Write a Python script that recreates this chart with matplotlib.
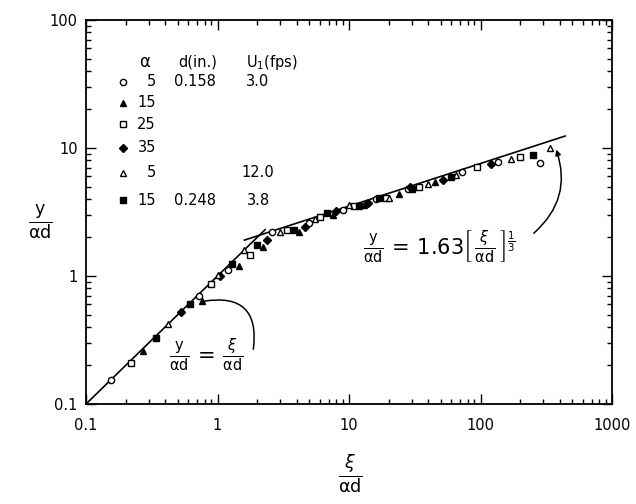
import numpy as np
import matplotlib
matplotlib.use("Agg")
import matplotlib.pyplot as plt

# Dimensionless penetration y/(alpha d) versus xi/(alpha d)
circle_x = [0.155, 0.72, 1.2, 2.6, 5.0, 9.0, 16, 28, 72, 136, 282]
circle_y = [0.155, 0.70, 1.12, 2.2, 2.6, 3.3, 4.0, 4.8, 6.5, 7.8, 7.6]

tri_fill_x = [0.27, 0.76, 1.45, 2.2, 4.2, 7.5, 13, 24, 45]
tri_fill_y = [0.26, 0.64, 1.2, 1.7, 2.2, 3.0, 3.6, 4.4, 5.4]

square_x = [0.22, 0.9, 1.77, 3.4, 6.0, 11, 19, 34, 94, 200]
square_y = [0.21, 0.87, 1.45, 2.3, 2.9, 3.5, 4.1, 5.0, 7.1, 8.5]

diamond_x = [0.53, 1.05, 2.4, 4.6, 8.0, 14, 29, 52, 120]
diamond_y = [0.52, 1.0, 1.9, 2.4, 3.2, 3.7, 5.0, 5.6, 7.5]

tri_open_x = [0.42, 1.0, 1.6, 3.0, 5.5, 10, 20, 40, 65, 170, 338]
tri_open_y = [0.42, 1.02, 1.6, 2.2, 2.8, 3.6, 4.1, 5.2, 6.2, 8.2, 10.0]

sq_fill_x = [0.34, 0.62, 1.3, 2.0, 3.8, 6.8, 12, 17, 30, 60, 250]
sq_fill_y = [0.33, 0.6, 1.25, 1.75, 2.3, 3.1, 3.5, 4.07, 4.8, 5.9, 8.8]

# Legend table rows: alpha, d (in.), U1 (fps)
alpha_vals = ["5", "15", "25", "35", "5", "15"]
d_vals = ["0.158", "", "", "", "", "0.248"]
u_vals = ["3.0", "", "", "", "12.0", "3.8"]

# Correlation lines
near_range = (0.1, 2.3)
far_range = (1.6, 440)
coef = 1.63
power = 1.0 / 3.0

xticks = [0.1, 1, 10, 100, 1000]
xtick_labels = ["0.1", "1", "10", "100", "1000"]
yticks = [0.1, 1, 10, 100]
ytick_labels = ["0.1", "1", "10", "100"]

plt.rcParams["font.family"] = ["DejaVu Sans"]
plt.rcParams["mathtext.fontset"] = "dejavusans"

fig = plt.figure(figsize=(6.36, 5.04), dpi=100)
ax = fig.add_axes([86 / 636, 100 / 504, 526 / 636, 384 / 504])
ax.set_xscale("log")
ax.set_yscale("log")
ax.set_xlim(0.1, 1000)
ax.set_ylim(0.1, 100)

xa = np.logspace(np.log10(near_range[0]), np.log10(near_range[1]), 50)
ax.plot(xa, xa, color="black", lw=1.2)
xb = np.logspace(np.log10(far_range[0]), np.log10(far_range[1]), 100)
ax.plot(xb, coef * xb ** power, color="black", lw=1.2)

ms = 4.5
series = [
    (circle_x, circle_y, dict(marker="o", mfc="white", mec="black")),
    (tri_fill_x, tri_fill_y, dict(marker="^", mfc="black", mec="black")),
    (square_x, square_y, dict(marker="s", mfc="white", mec="black")),
    (diamond_x, diamond_y, dict(marker="D", mfc="black", mec="black")),
    (tri_open_x, tri_open_y, dict(marker="^", mfc="white", mec="black")),
    (sq_fill_x, sq_fill_y, dict(marker="s", mfc="black", mec="black")),
]
for xs, ys, style in series:
    ax.plot(xs, ys, ls="none", ms=ms, mew=1.0, zorder=3, **style)

# Axes styling: inward ticks on all four sides
for s in ax.spines.values():
    s.set_linewidth(1.3)
ax.tick_params(which="both", direction="in", top=True, right=True,
               labelsize=10.5, width=1.0)
ax.tick_params(which="major", length=7)
ax.tick_params(which="minor", length=3.5)
ax.tick_params(axis="x", which="major", pad=10)
ax.tick_params(axis="y", which="major", pad=6)
ax.set_xticks(xticks)
ax.set_xticklabels(xtick_labels)
ax.set_yticks(yticks)
ax.set_yticklabels(ytick_labels)

# Axis labels as stacked fractions
fig.text(40 / 636, 1 - 222 / 504, r"$\frac{\mathrm{y}}{\mathrm{\alpha d}}$",
         fontsize=18, ha="center", va="center")
fig.text(350 / 636, 1 - 474 / 504, r"$\frac{\xi}{\mathrm{\alpha d}}$",
         fontsize=18, ha="center", va="center")

# Legend table
fs = 10.5
hy = 0.89
ax.text(0.112, hy, r"$\mathrm{\alpha}$", transform=ax.transAxes, fontsize=12,
        ha="center", va="center")
ax.text(0.213, hy, "d(in.)", transform=ax.transAxes, fontsize=fs,
        ha="center", va="center")
ax.text(0.354, hy, r"U$_1$(fps)", transform=ax.transAxes, fontsize=fs,
        ha="center", va="center")
row_y = [0.839, 0.784, 0.729, 0.667, 0.602, 0.531]
for (xs, ys, style), ry, a, d, u in zip(series, row_y, alpha_vals, d_vals, u_vals):
    ax.plot([0.070], [ry], transform=ax.transAxes, ls="none", ms=ms,
            mew=1.0, clip_on=False, **style)
    ax.text(0.133, ry, a, transform=ax.transAxes, fontsize=fs,
            ha="right", va="center")
    if d:
        ax.text(0.167, ry, d, transform=ax.transAxes, fontsize=fs,
                ha="left", va="center")
    if u:
        ax.text(0.327, ry, u, transform=ax.transAxes, fontsize=fs,
                ha="center", va="center")

# Equation labels with leader curves
ax.text(0.83, 0.24,
        r"$\frac{\mathrm{y}}{\mathrm{\alpha d}}\,=\,\frac{\xi}{\mathrm{\alpha d}}$",
        fontsize=15, ha="center", va="center")
ax.annotate("", xy=(1.86, 0.255), xytext=(0.75, 0.63),
            arrowprops=dict(arrowstyle="-", lw=1.1, color="black",
                            connectionstyle="arc3,rad=-0.7"))

ax.text(49, 1.66,
        r"$\frac{\mathrm{y}}{\mathrm{\alpha d}}\,=\,1.63"
        r"\left[\,\frac{\xi}{\mathrm{\alpha d}}\,\right]^{\frac{1}{3}}$",
        fontsize=15, ha="center", va="center")
ax.annotate("", xy=(370, 10.2), xytext=(245, 2.09),
            arrowprops=dict(arrowstyle="-|>", lw=1.1, color="black",
                            mutation_scale=8,
                            connectionstyle="arc3,rad=0.35"))

fig.savefig("out.png", dpi=100)
